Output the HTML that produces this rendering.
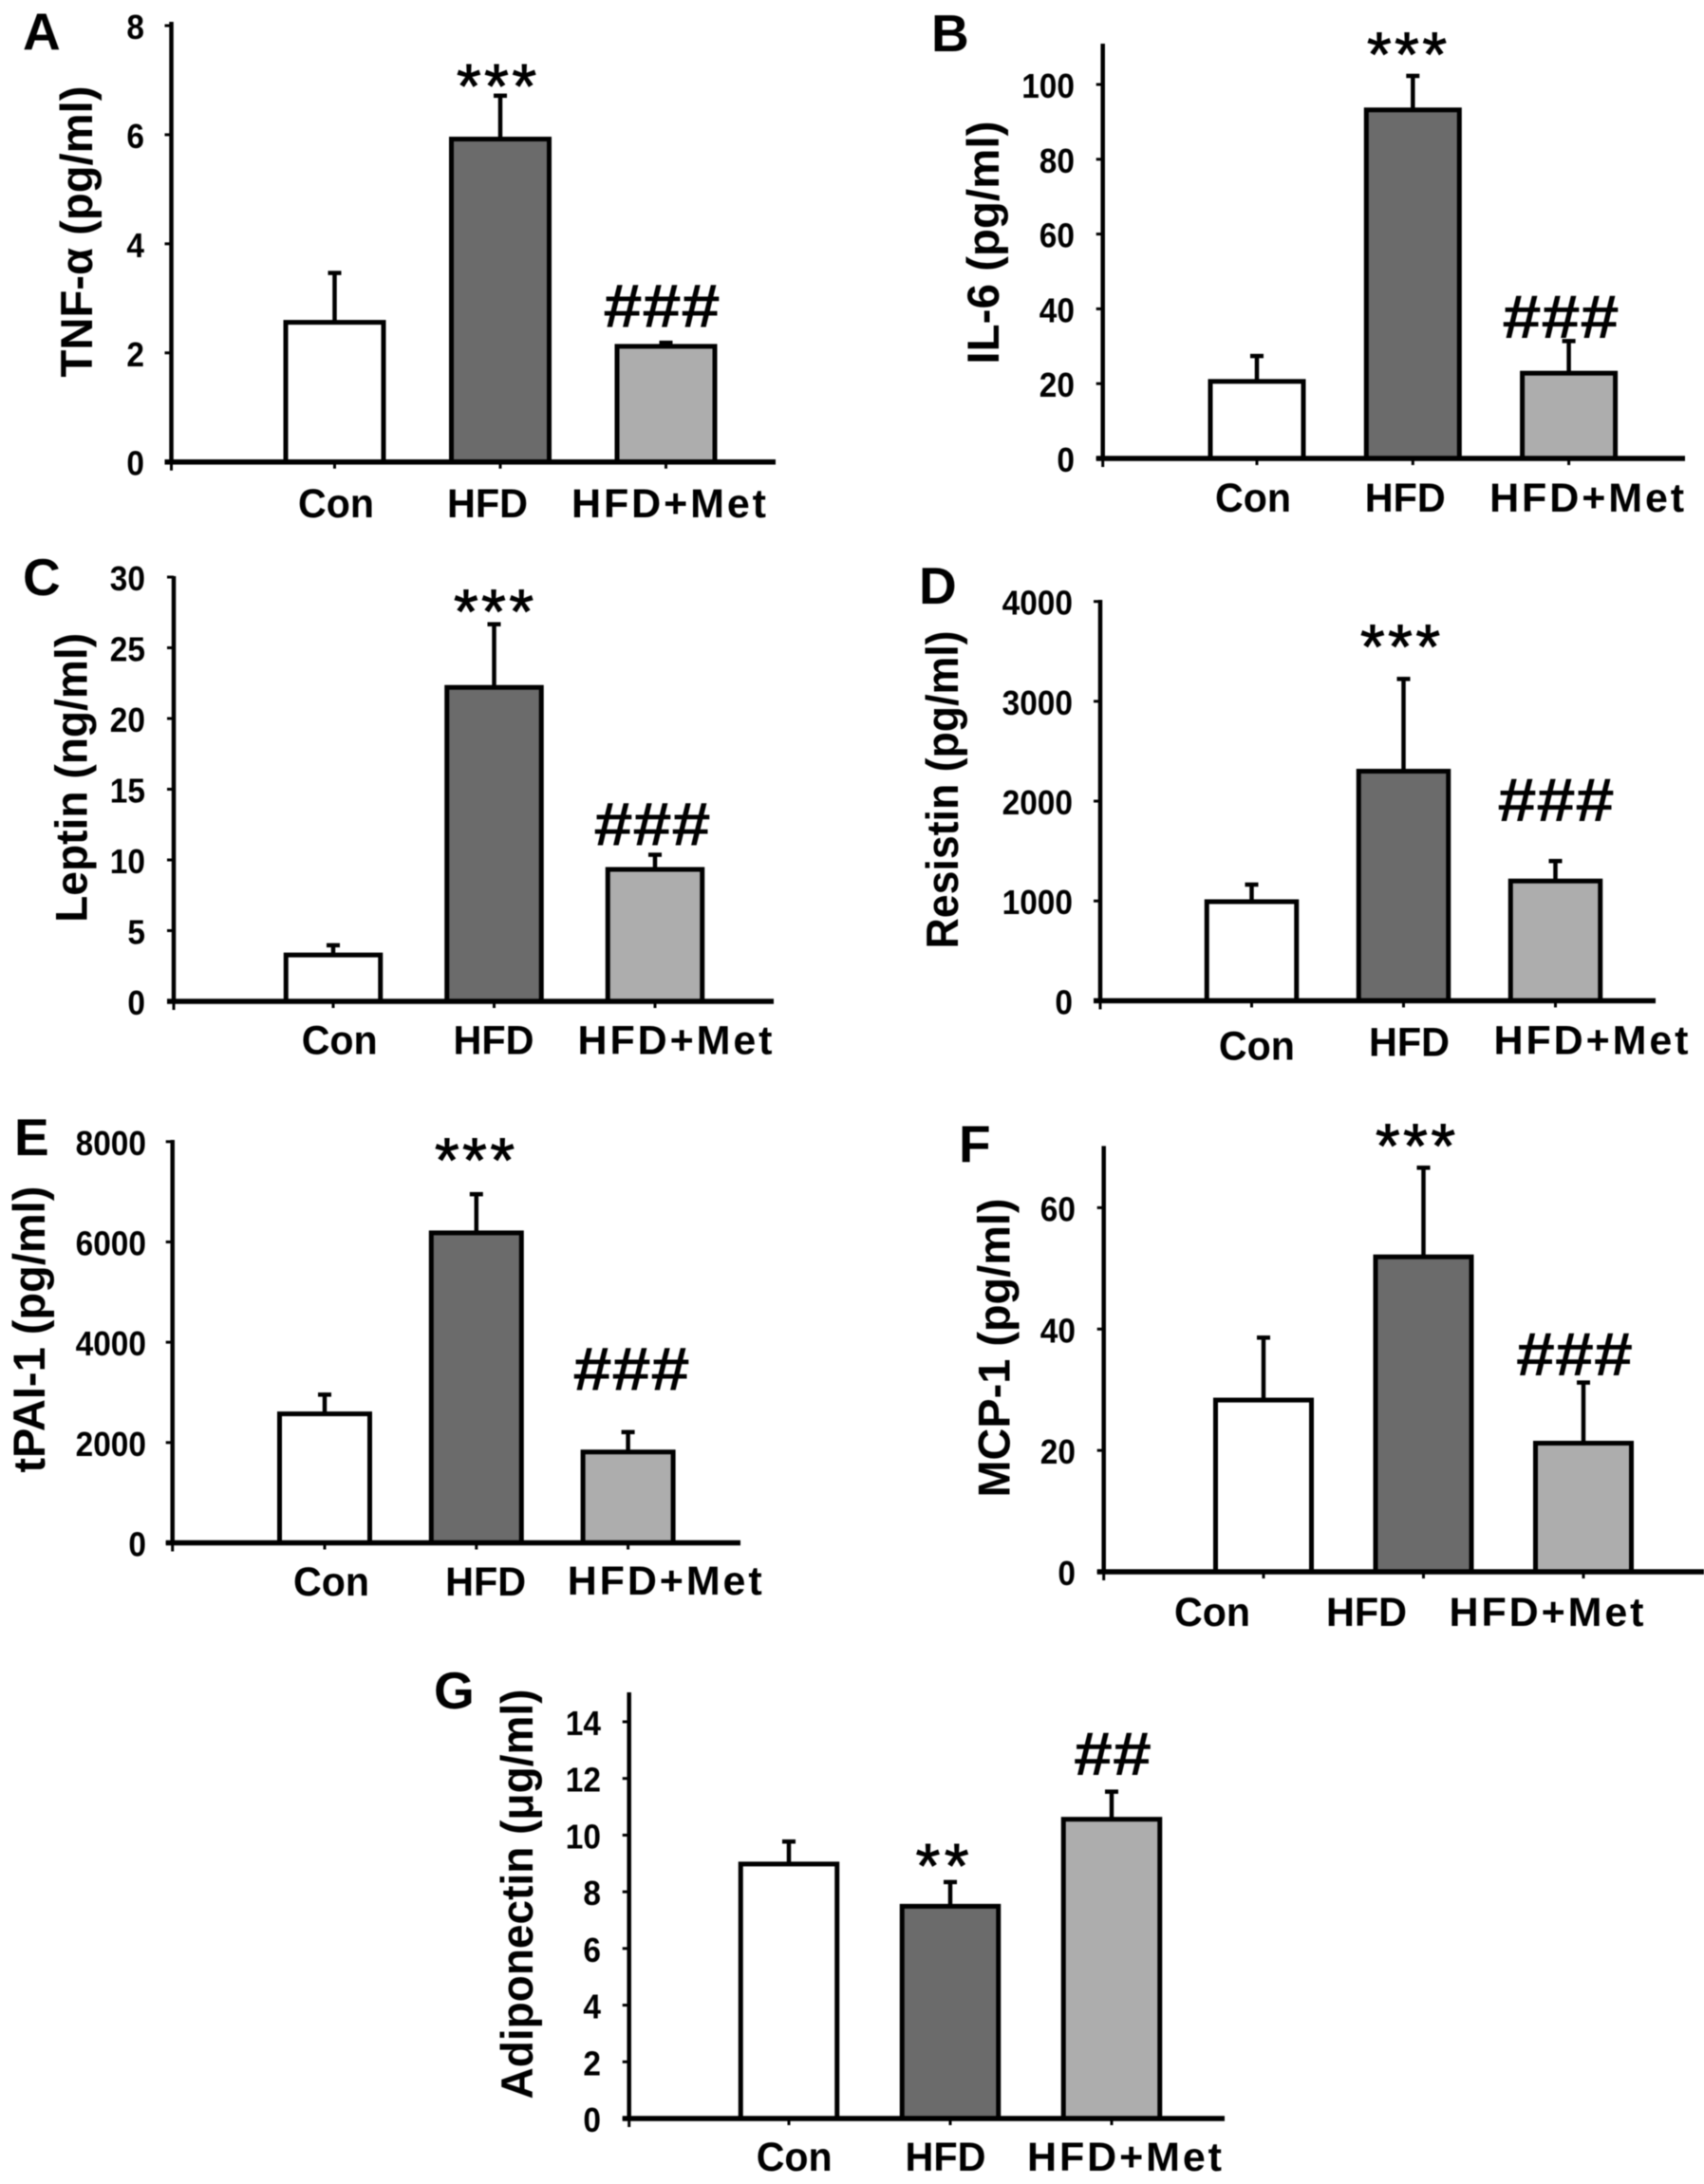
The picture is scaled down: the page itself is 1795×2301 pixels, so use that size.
<!DOCTYPE html>
<html lang="en">
<head>
<meta charset="utf-8">
<title>Serum adipokine bar charts</title>
<style>
html,body{margin:0;padding:0;background:#fff;}
body{width:1795px;height:2301px;overflow:hidden;}
svg{display:block;filter:blur(0.6px);}
text{font-family:"Liberation Sans","DejaVu Sans",sans-serif;fill:#000;}
</style>
</head>
<body>
<svg id="figure" xmlns="http://www.w3.org/2000/svg" width="1795" height="2301" viewBox="0 0 1795 2301"></svg>
<script>
const categories = ['Con', 'HFD', 'HFD+Met'];
const barFills = ['#ffffff', '#6b6b6b', '#adadad'];

const tnfTicks = [0, 2, 4, 6, 8];
const tnfValues = [2.56, 5.92, 2.12];
const tnfErrorTops = [3.5, 6.75, 2.22];

const il6Ticks = [0, 20, 40, 60, 80, 100];
const il6Values = [20.6, 93.2, 22.8];
const il6ErrorTops = [27.9, 102.8, 31.9];

const leptinTicks = [0, 5, 10, 15, 20, 25, 30];
const leptinValues = [3.28, 22.2, 9.33];
const leptinErrorTops = [4.1, 26.8, 10.5];

const resistinTicks = [0, 1000, 2000, 3000, 4000];
const resistinValues = [993, 2300, 1200];
const resistinErrorTops = [1183, 3243, 1419];

const tpaiTicks = [0, 2000, 4000, 6000, 8000];
const tpaiValues = [2572, 6181, 1812];
const tpaiErrorTops = [2993, 6990, 2246];

const mcpTicks = [0, 20, 40, 60];
const mcpValues = [28.3, 51.9, 21.2];
const mcpErrorTops = [38.9, 66.9, 31.5];

const adipoTicks = [0, 2, 4, 6, 8, 10, 12, 14];
const adipoValues = [8.98, 7.49, 10.56];
const adipoErrorTops = [9.84, 8.41, 11.6];

const SVGNS = 'http://www.w3.org/2000/svg';
const root = document.getElementById('figure');
const labelLengths = {'Con': 80, 'HFD': 85, 'HFD+Met': 205};

function make(tag, attrs, parent, content) {
  const el = document.createElementNS(SVGNS, tag);
  for (const key in attrs) el.setAttribute(key, attrs[key]);
  if (content !== undefined) el.textContent = content;
  parent.appendChild(el);
  return el;
}

function drawPanel(p) {
  const yMax = p.ticks[p.ticks.length - 1];
  const yScale = function (v) { return p.y0 - v * (p.y0 - p.yMaxPx) / yMax; };
  const xScale = function (i) { return p.x1 + i * p.step; };

  const g = make('g', {}, root);
  
  

  const letter = make('text', {x: p.letterX, y: p.letterY, 'font-size': 55, 'font-weight': 'bold'}, g, p.letter);
  
  

  const title = make('text', {
    transform: 'translate(' + p.titleX + ',' + p.titleY + ') rotate(-90)',
    'text-anchor': 'middle', 'font-size': 47, 'font-weight': 'bold',
    textLength: p.titleLen, lengthAdjust: 'spacingAndGlyphs'
  }, g, p.title);
  
  

  p.ticks.forEach(function (t) {
    const y = yScale(t);
    const tick = make('line', {x1: p.x0 - 7, x2: p.x0, y1: y, y2: y, stroke: '#000', 'stroke-width': 3}, g);
    
    
    const s = String(t);
    const label = make('text', {
      x: p.tickRight, y: y + 14, 'text-anchor': 'end', 'font-size': 36, 'font-weight': 'bold',
      textLength: s.length * 18.6, lengthAdjust: 'spacingAndGlyphs'
    }, g, s);
    
    
  });

  categories.forEach(function (c, i) {
    const cx = xScale(i);
    const yv = yScale(p.values[i]);
    const ye = yScale(p.errors[i]);

    const stem = make('line', {x1: cx, x2: cx, y1: yv, y2: ye, stroke: '#000', 'stroke-width': 4.5}, g);
    
    

    const cap = make('line', {x1: cx - 7, x2: cx + 7, y1: ye + 2, y2: ye + 2, stroke: '#000', 'stroke-width': 4.5}, g);
    
    

    const bar = make('rect', {
      x: cx - p.barWidth / 2, y: yv, width: p.barWidth, height: p.y0 - yv,
      fill: barFills[i], stroke: '#000', 'stroke-width': 5
    }, g);
    
    

    const xt = make('line', {x1: cx, x2: cx, y1: p.y0, y2: p.y0 + 7, stroke: '#000', 'stroke-width': 3}, g);
    
    

    const xl = make('text', {
      x: cx + p.labelDx[i], y: p.labelY + (p.labelYDx ? p.labelYDx[i] : 0), 'text-anchor': 'middle',
      'font-size': 43, 'font-weight': 'bold', textLength: labelLengths[c],
      lengthAdjust: c === 'HFD+Met' ? 'spacing' : 'spacingAndGlyphs'
    }, g, c);
    
    
  });

  const yAxis = make('line', {x1: p.x0, x2: p.x0, y1: p.axisTop, y2: p.y0 + 2, stroke: '#000', 'stroke-width': 4.5}, g);
  
  

  const xAxis = make('line', {x1: p.x0 - 7, x2: p.xEnd, y1: p.y0, y2: p.y0, stroke: '#000', 'stroke-width': 5.5}, g);
  
  

  const leftTick = make('line', {x1: p.x0, x2: p.x0, y1: p.y0, y2: p.y0 + 9, stroke: '#000', 'stroke-width': 3}, g);
  
  

  const stars = make('text', {
    x: p.starX, y: p.starY + 32, 'text-anchor': 'middle', 'font-size': 66,
    stroke: '#000', 'stroke-width': 1,
    textLength: p.starText.length * 28, lengthAdjust: 'spacing'
  }, g, p.starText);
  
  

  const hash = make('text', {
    x: p.hashX, y: p.hashY + 23, 'text-anchor': 'middle', 'font-size': 65, 'font-weight': 'bold',
    textLength: p.hashText.length * 41, lengthAdjust: 'spacingAndGlyphs'
  }, g, p.hashText);
  
  
}

drawPanel({letter: 'A', letterX: 24, letterY: 52, title: 'TNF-α (pg/ml)', titleX: 97, titleY: 244, titleLen: 307,
  ticks: tnfTicks, values: tnfValues, errors: tnfErrorTops,
  x0: 180.5, x1: 352.5, step: 174.5, xEnd: 817, y0: 486.7, yMaxPx: 27, axisTop: 23, barWidth: 103, tickRight: 152,
  labelDx: [1.5, -13.5, 3], labelY: 545, starText: '***', starX: 523, starY: 81.5, hashText: '###', hashX: 697, hashY: 321.5});

drawPanel({letter: 'B', letterX: 981, letterY: 54, title: 'IL-6 (pg/ml)', titleX: 1052, titleY: 255.6, titleLen: 256,
  ticks: il6Ticks, values: il6Values, errors: il6ErrorTops,
  x0: 1161.7, x1: 1324, step: 164.3, xEnd: 1775, y0: 483, yMaxPx: 89, axisTop: 46, barWidth: 98, tickRight: 1132,
  labelDx: [-4, -8, 19], labelY: 539, starText: '***', starX: 1482, starY: 48, hashText: '###', hashX: 1644, hashY: 333});

drawPanel({letter: 'C', letterX: 24, letterY: 627, title: 'Leptin (ng/ml)', titleX: 91.4, titleY: 819.4, titleLen: 305,
  ticks: leptinTicks, values: leptinValues, errors: leptinErrorTops,
  x0: 183, x1: 351, step: 169.5, xEnd: 815, y0: 1055, yMaxPx: 608, axisTop: 607, barWidth: 99.5, tickRight: 153,
  labelDx: [6.7, -0.5, 21], labelY: 1110.7, starText: '***', starX: 520, starY: 635, hashText: '###', hashX: 687, hashY: 867.4});

drawPanel({letter: 'D', letterX: 968, letterY: 636, title: 'Resistin (pg/ml)', titleX: 1009, titleY: 832, titleLen: 335,
  ticks: resistinTicks, values: resistinValues, errors: resistinErrorTops,
  x0: 1159, x1: 1318.5, step: 160, xEnd: 1744, y0: 1054.4, yMaxPx: 633.7, axisTop: 632, barWidth: 94.5, tickRight: 1130,
  labelDx: [5.4, 6, 37.5], labelY: 1112.6, labelYDx: [3.7, 0, -2], starText: '***', starX: 1475, starY: 672, hashText: '###', hashX: 1639, hashY: 842});

drawPanel({letter: 'E', letterX: 15, letterY: 1217, title: 'tPAI-1 (pg/ml)', titleX: 47, titleY: 1400.6, titleLen: 302,
  ticks: tpaiTicks, values: tpaiValues, errors: tpaiErrorTops,
  x0: 181.7, x1: 342, step: 159.8, xEnd: 780, y0: 1625.5, yMaxPx: 1202.8, axisTop: 1201, barWidth: 95, tickRight: 154,
  labelDx: [7, 9.8, 38.6], labelY: 1681, labelYDx: [0, 0, -1], starText: '***', starX: 500, starY: 1213, hashText: '###', hashX: 665, hashY: 1441.5});

drawPanel({letter: 'F', letterX: 1010, letterY: 1224.6, title: 'MCP-1 (pg/ml)', titleX: 1063.6, titleY: 1420, titleLen: 315,
  ticks: mcpTicks, values: mcpValues, errors: mcpErrorTops,
  x0: 1162.7, x1: 1331, step: 168.5, xEnd: 1795, y0: 1656, yMaxPx: 1272.4, axisTop: 1207.4, barWidth: 101, tickRight: 1133,
  labelDx: [-54, -60, -39], labelY: 1713, starText: '***', starX: 1491, starY: 1198, hashText: '###', hashX: 1658.5, hashY: 1426});

drawPanel({letter: 'G', letterX: 457, letterY: 1800, title: 'Adiponectin (μg/ml)', titleX: 561, titleY: 1995.5, titleLen: 432,
  ticks: adipoTicks, values: adipoValues, errors: adipoErrorTops,
  x0: 662.7, x1: 831, step: 170, xEnd: 1290, y0: 2232, yMaxPx: 1814, axisTop: 1783, barWidth: 101.5, tickRight: 633,
  labelDx: [5.7, -5, 13.5], labelY: 2287, starText: '**', starX: 992.6, starY: 1956.5, hashText: '##', hashX: 1172, hashY: 1847});
</script>
</body>
</html>
